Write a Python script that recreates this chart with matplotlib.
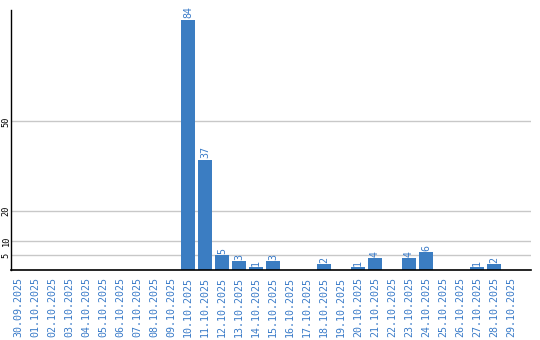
import matplotlib
matplotlib.use("Agg")
import matplotlib.pyplot as plt

dates = ["30.09.2025", "01.10.2025", "02.10.2025", "03.10.2025", "04.10.2025",
         "05.10.2025", "06.10.2025", "07.10.2025", "08.10.2025", "09.10.2025",
         "10.10.2025", "11.10.2025", "12.10.2025", "13.10.2025", "14.10.2025",
         "15.10.2025", "16.10.2025", "17.10.2025", "18.10.2025", "19.10.2025",
         "20.10.2025", "21.10.2025", "22.10.2025", "23.10.2025", "24.10.2025",
         "25.10.2025", "26.10.2025", "27.10.2025", "28.10.2025", "29.10.2025"]
values = [0, 0, 0, 0, 0, 0, 0, 0, 0, 0,
          84, 37, 5, 3, 1, 3, 0, 0, 2, 0,
          1, 4, 0, 4, 6, 0, 0, 1, 2, 0]
yticks = [5, 10, 20, 50]

bar_color = "#3b7dc2"
text_color = "#3a7bc8"
mono = "DejaVu Sans Mono"

fig = plt.figure(figsize=(5.4, 3.4), dpi=100)
W, H = 540, 340
left, right, top, bottom = 10.5, 530.5, 10, 270.3
ax = fig.add_axes([left / W, 1 - bottom / H, (right - left) / W, (bottom - top) / H])

x = list(range(len(dates)))
slot = 17.0
x0 = (left - 18) / slot
x1 = (right - 18) / slot
ax.set_xlim(x0, x1)
ax.set_ylim(0, (bottom - top) / 2.98)

ax.bar(x, values, width=14 / 17, color=bar_color, zorder=3)
for xi, v in zip(x, values):
    if v > 0:
        ax.annotate(str(v), (xi, v), xytext=(0, 1.2), textcoords="offset points",
                    rotation=90, ha="center", va="bottom", color=text_color,
                    fontsize=7.2, family=mono, zorder=4)

ax.set_yticks(yticks)
ax.set_yticklabels([str(t) for t in yticks], rotation=90, va="center",
                   fontsize=6.2, family=mono, color="black")
ax.grid(axis="y", color="#c8c8c8", linewidth=1, zorder=0)
ax.set_xticks(x)
ax.set_xticklabels(dates, rotation=90, ha="center", va="top",
                   fontsize=7.2, family=mono, color=text_color)
ax.tick_params(axis="both", length=0)
ax.tick_params(axis="x", pad=5)
ax.tick_params(axis="y", pad=0)

for s in ["top", "right"]:
    ax.spines[s].set_visible(False)
ax.spines["left"].set_color("black")
ax.spines["bottom"].set_color("black")
ax.spines["left"].set_linewidth(1.0)
ax.spines["bottom"].set_linewidth(1.2)
ax.spines["bottom"].set_zorder(5)

fig.savefig("out.png", dpi=100)
